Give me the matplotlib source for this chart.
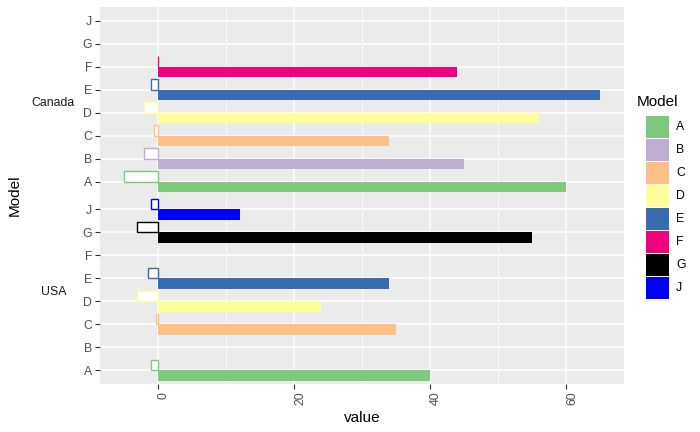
import matplotlib
matplotlib.use("Agg")
import matplotlib.pyplot as plt
from matplotlib.patches import Rectangle

plt.rcParams['font.family'] = ['Liberation Sans', 'DejaVu Sans']

categories = ['A', 'B', 'C', 'D', 'E', 'F', 'G', 'J']
colors = ['#7FC97F', '#BEAED4', '#FDC086', '#FFFF99', '#386CB0', '#F0027F', '#000000', '#0000FF']
facets = ['Canada', 'USA']

# positive (filled) and negative (outlined) values per facet; None = no bar
canada_pos = [60, 45, 34, 56, 65, 44, None, None]
canada_neg = [-5, -2, -0.5, -2, -1, -0.05, None, None]
usa_pos = [40, None, 35, 24, 34, None, 55, 12]
usa_neg = [-1, None, -0.25, -3, -1.5, None, -3, -1]

W, H = 700, 432
fig = plt.figure(figsize=(7, 4.32), dpi=100)

def px(x0, y0, x1, y1):
    return [x0 / W, 1 - y1 / H, (x1 - x0) / W, (y1 - y0) / H]

left, right, top, bottom = 100, 624, 7, 384
mid = (top + bottom) / 2
ax_top = fig.add_axes(px(left, top, right, mid))
ax_bot = fig.add_axes(px(left, mid, right, bottom), sharex=ax_top)

tick_col = '#4D4D4D'
for ax, name, pos, neg in [(ax_top, facets[0], canada_pos, canada_neg),
                           (ax_bot, facets[1], usa_pos, usa_neg)]:
    ax.set_facecolor('#EBEBEB')
    for s in ax.spines.values():
        s.set_visible(False)
    ys = list(range(1, len(categories) + 1))
    for y, c, p, n in zip(ys, colors, pos, neg):
        if p is not None:
            ax.barh(y - 0.45, p, height=0.45, align='edge', color=c, linewidth=0, zorder=3)
        if n is not None:
            ax.barh(y, n, height=0.45, align='edge', facecolor='white', edgecolor=c,
                    linewidth=1.0, zorder=3)
    ax.set_ylim(0.4, len(categories) + 0.6)
    ax.set_yticks(ys)
    ax.set_yticklabels(categories)
    ax.set_xlim(-8.5, 68.5)
    ax.set_xticks([0, 20, 40, 60])
    ax.set_xticks([10, 30, 50], minor=True)
    ax.grid(True, which='major', color='white', linewidth=1.1, zorder=0)
    ax.grid(True, which='minor', axis='x', color='white', linewidth=0.55, zorder=0)
    ax.set_axisbelow(True)
    ax.tick_params(axis='both', which='major', length=3.5, width=0.8, color='#333333',
                   labelcolor=tick_col, labelsize=8.8, pad=2)
    ax.tick_params(axis='both', which='minor', length=0)
    ax.text(-0.089, 0.49, name, transform=ax.transAxes, ha='center', va='center',
            fontsize=8.8, color='#1A1A1A')

ax_top.tick_params(axis='x', labelbottom=False, length=0)
ax_bot.set_xticklabels(['0', '20', '40', '60'], rotation=90, va='top', ha='left')
ax_bot.set_xlabel('value', fontsize=11, labelpad=4)

fig.text(15 / W, 1 - 195 / H, 'Model', rotation=90, ha='center', va='center', fontsize=11)

# legend
fig.text(637 / W, 1 - 101.5 / H, 'Model', ha='left', va='center', fontsize=11)
for i, (cat, c) in enumerate(zip(categories, colors)):
    y0 = 116 + i * 23.0
    fig.add_artist(Rectangle((646 / W, 1 - (y0 + 22.3) / H), 23 / W, 22.3 / H,
                             transform=fig.transFigure, facecolor=c, edgecolor='none'))
    fig.text(676 / W, 1 - (y0 + 11.2) / H, cat, ha='left', va='center', fontsize=8.8)

fig.savefig('out.png', dpi=100)
